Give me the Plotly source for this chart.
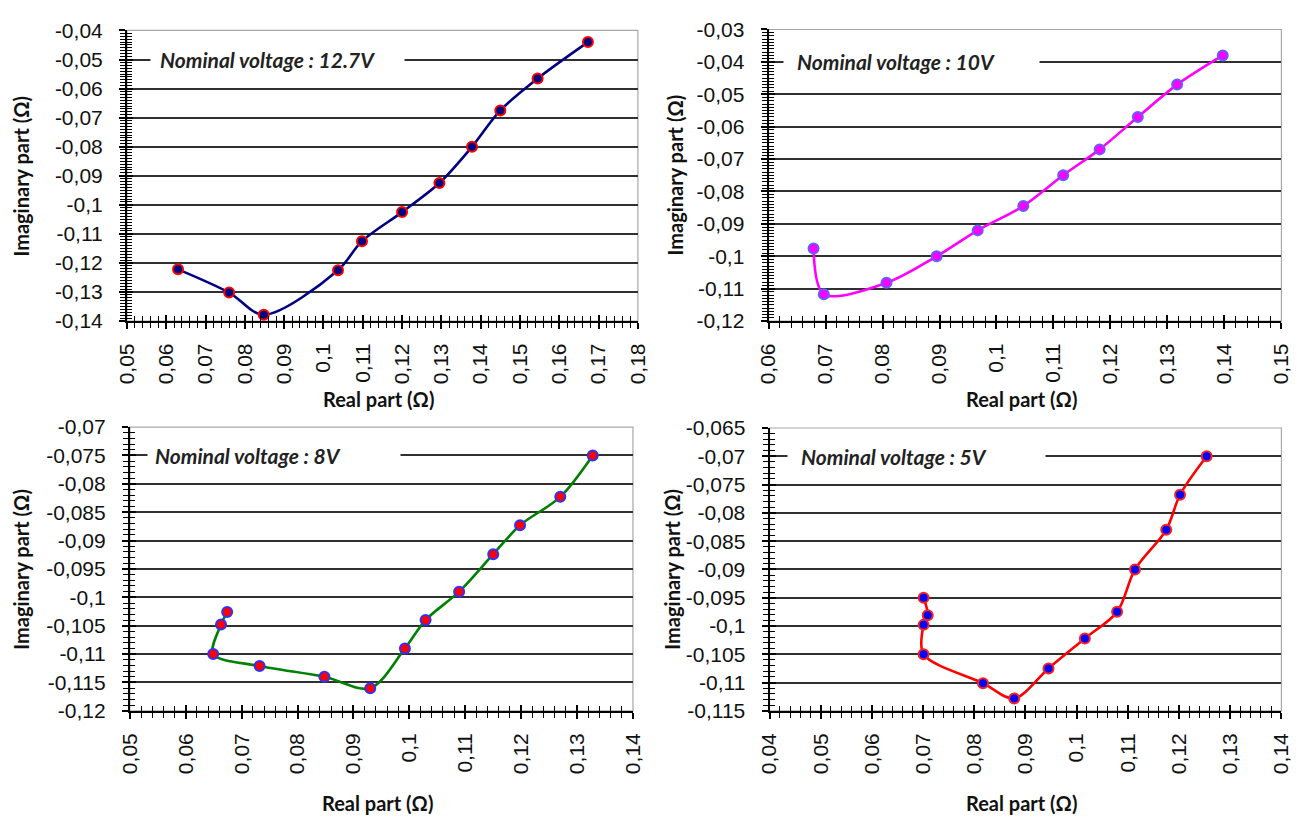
import plotly.graph_objects as go

W, H = 1316, 821

# ---------------- data ----------------
re_127 = [0.063, 0.076, 0.0848, 0.1037, 0.1098, 0.120, 0.1295, 0.1378, 0.145, 0.1545, 0.1673]
im_127 = [-0.1222, -0.1302, -0.1378, -0.1225, -0.1125, -0.1025, -0.0925, -0.080, -0.0675, -0.0565, -0.044]

re_10 = [0.0679, 0.0697, 0.0807, 0.0895, 0.0967, 0.1047, 0.1117, 0.1181, 0.1248, 0.1317, 0.1397]
im_10 = [-0.0976, -0.1117, -0.1082, -0.100, -0.092, -0.0845, -0.075, -0.067, -0.057, -0.047, -0.038]

re_8 = [0.0674, 0.0663, 0.0649, 0.0732, 0.0848, 0.093, 0.0992, 0.1029, 0.1089, 0.115, 0.1198, 0.127, 0.1328]
im_8 = [-0.1026, -0.1048, -0.110, -0.1121, -0.114, -0.116, -0.109, -0.104, -0.099, -0.0924, -0.0873, -0.0823, -0.075]

re_5 = [0.0701, 0.0709, 0.0701, 0.0701, 0.0817, 0.0878, 0.0945, 0.1016, 0.1079, 0.1114, 0.1175, 0.1202, 0.1254]
im_5 = [-0.095, -0.0981, -0.0998, -0.105, -0.1101, -0.1128, -0.1075, -0.1022, -0.0975, -0.090, -0.083, -0.0768, -0.070]

labels = ["Nominal voltage : 12.7V", "Nominal voltage : 10V", "Nominal voltage : 8V", "Nominal voltage : 5V"]

x_ticks_1 = [0.05, 0.06, 0.07, 0.08, 0.09, 0.10, 0.11, 0.12, 0.13, 0.14, 0.15, 0.16, 0.17, 0.18]
x_text_1 = ["0,05", "0,06", "0,07", "0,08", "0,09", "0,1", "0,11", "0,12", "0,13", "0,14", "0,15", "0,16", "0,17", "0,18"]
y_ticks_1 = [-0.04, -0.05, -0.06, -0.07, -0.08, -0.09, -0.10, -0.11, -0.12, -0.13, -0.14]
y_text_1 = ["-0,04", "-0,05", "-0,06", "-0,07", "-0,08", "-0,09", "-0,1", "-0,11", "-0,12", "-0,13", "-0,14"]

x_ticks_2 = [0.06, 0.07, 0.08, 0.09, 0.10, 0.11, 0.12, 0.13, 0.14, 0.15]
x_text_2 = ["0,06", "0,07", "0,08", "0,09", "0,1", "0,11", "0,12", "0,13", "0,14", "0,15"]
y_ticks_2 = [-0.03, -0.04, -0.05, -0.06, -0.07, -0.08, -0.09, -0.10, -0.11, -0.12]
y_text_2 = ["-0,03", "-0,04", "-0,05", "-0,06", "-0,07", "-0,08", "-0,09", "-0,1", "-0,11", "-0,12"]

x_ticks_3 = [0.05, 0.06, 0.07, 0.08, 0.09, 0.10, 0.11, 0.12, 0.13, 0.14]
x_text_3 = ["0,05", "0,06", "0,07", "0,08", "0,09", "0,1", "0,11", "0,12", "0,13", "0,14"]
y_ticks_3 = [-0.07, -0.075, -0.08, -0.085, -0.09, -0.095, -0.10, -0.105, -0.11, -0.115, -0.12]
y_text_3 = ["-0,07", "-0,075", "-0,08", "-0,085", "-0,09", "-0,095", "-0,1", "-0,105", "-0,11", "-0,115", "-0,12"]

x_ticks_4 = [0.04, 0.05, 0.06, 0.07, 0.08, 0.09, 0.10, 0.11, 0.12, 0.13, 0.14]
x_text_4 = ["0,04", "0,05", "0,06", "0,07", "0,08", "0,09", "0,1", "0,11", "0,12", "0,13", "0,14"]
y_ticks_4 = [-0.065, -0.07, -0.075, -0.08, -0.085, -0.09, -0.095, -0.10, -0.105, -0.11, -0.115]
y_text_4 = ["-0,065", "-0,07", "-0,075", "-0,08", "-0,085", "-0,09", "-0,095", "-0,1", "-0,105", "-0,11", "-0,115"]

x_title = "Real part (Ω)"
y_title = "Imaginary part (Ω)"

# ---------------- style / layout ----------------
boxes = [(117, 637, 19, 318), (770, 1292, 18, 318), (120, 632, 427, 719), (771, 1292, 428, 719)]
xranges = [[0.05, 0.18], [0.06, 0.15], [0.05, 0.14], [0.04, 0.14]]
yranges = [[-0.14, -0.04], [-0.12, -0.03], [-0.12, -0.07], [-0.115, -0.065]]
label_y = [-0.05, -0.04, -0.075, -0.07]
label_box = [(140, 393), (785, 1040), (137, 389), (789, 1046)]
label_text_x = [149, 797, 144, 801]
ytitle_x = [9, 675, 9, 672]
xtitle_y = [398, 398, 814, 814]
line_col = ["#000080", "#FF00FF", "#008000", "#FF0000"]
fill_col = ["#000080", "#FF00FF", "#FF0000", "#0000FF"]
edge_col = ["#FF0000", "#6060FF", "#3030FF", "#FF2020"]

series = [(re_127, im_127), (re_10, im_10), (re_8, im_8), (re_5, im_5)]
xt = [(x_ticks_1, x_text_1), (x_ticks_2, x_text_2), (x_ticks_3, x_text_3), (x_ticks_4, x_text_4)]
yt = [(y_ticks_1, y_text_1), (y_ticks_2, y_text_2), (y_ticks_3, y_text_3), (y_ticks_4, y_text_4)]

TICK_FONT = dict(family="Liberation Sans, Arial, sans-serif", size=21, color="#111")
TITLE_FONT = dict(family="Lato, Open Sans, sans-serif", size=20, color="#111", weight="bold")
LABEL_FONT = dict(family="Lato, Open Sans, sans-serif", size=21, color="#222", weight="bold", style="italic")
TK = "black"

fig = go.Figure()
layout = dict(width=W, height=H, margin=dict(l=0, r=0, t=0, b=0),
              paper_bgcolor="white", plot_bgcolor="white", showlegend=False,
              annotations=[], shapes=[])

for i in range(4):
    n = i + 1
    L, R, T, B = boxes[i]
    xd = [L / W, R / W]
    yd = [1 - B / H, 1 - T / H]
    xs = "" if n == 1 else str(n)
    ox = str(n + 4)
    layout["xaxis" + xs] = dict(
        domain=xd, anchor="y" + xs, range=xranges[i], tickmode="array",
        tickvals=xt[i][0], ticktext=xt[i][1], tickangle=-90, tickfont=TICK_FONT,
        ticks="outside", ticklen=6, tickwidth=1.5, tickcolor=TK, ticklabelstandoff=6,
        minor=dict(dtick=0.002, tick0=0, ticks="outside", ticklen=5, tickwidth=1.3,
                   tickcolor=TK, showgrid=False),
        showline=True, linecolor="black", linewidth=2, showgrid=False, zeroline=False)
    layout["yaxis" + xs] = dict(
        domain=yd, anchor="x" + xs, range=yranges[i], tickmode="array",
        tickvals=yt[i][0], ticktext=yt[i][1], tickfont=TICK_FONT,
        ticks="outside", ticklen=6, tickwidth=1.5, tickcolor=TK, ticklabelstandoff=12,
        minor=dict(dtick=0.001, tick0=0, ticks="outside", ticklen=5, tickwidth=1.1,
                   tickcolor=TK, showgrid=False),
        showline=True, linecolor="black", linewidth=2,
        showgrid=True, gridcolor="#303030", gridwidth=2, zeroline=False)
    layout["xaxis" + ox] = dict(
        overlaying="x" + xs, anchor="y" + xs, side="bottom", range=xranges[i], tickmode="array",
        tickvals=xt[i][0], showticklabels=False, ticks="inside", ticklen=6, tickwidth=1.5,
        tickcolor=TK,
        minor=dict(dtick=0.002, tick0=0, ticks="inside", ticklen=5, tickwidth=1.3,
                   tickcolor=TK, showgrid=False),
        showline=False, showgrid=False, zeroline=False)
    layout["yaxis" + ox] = dict(
        overlaying="y" + xs, anchor="x" + xs, side="left", range=yranges[i], tickmode="array",
        tickvals=yt[i][0], showticklabels=False, ticks="inside", ticklen=6, tickwidth=1.5,
        tickcolor=TK,
        minor=dict(dtick=0.001, tick0=0, ticks="inside", ticklen=5, tickwidth=1.1,
                   tickcolor=TK, showgrid=False),
        showline=False, showgrid=False, zeroline=False)

    xv, yv = series[i]
    fig.add_trace(go.Scatter(x=xv, y=yv, xaxis="x" + ox, yaxis="y" + ox, mode="markers",
                             marker=dict(opacity=0), hoverinfo="skip"))

    fig.add_trace(go.Scatter(
        x=xv, y=yv, xaxis="x" + xs, yaxis="y" + xs, mode="lines+markers",
        line=dict(color=line_col[i], width=2.6, shape="spline", smoothing=0.9),
        marker=dict(size=10, color=fill_col[i], line=dict(color=edge_col[i], width=2)),
        cliponaxis=False))

    layout["shapes"].append(dict(type="rect", xref="paper", yref="paper",
                                 x0=xd[0], x1=xd[1], y0=yd[0], y1=yd[1],
                                 line=dict(color="#A8A8A8", width=1.2), layer="below"))

    bx0, bx1 = label_box[i]
    layout["annotations"].append(dict(
        xref="paper", yref="y" + xs, x=bx0 / W, y=label_y[i], xanchor="left", yanchor="middle",
        width=bx1 - bx0, height=20, text=" ", showarrow=False, bgcolor="white", borderpad=0))
    layout["annotations"].append(dict(
        xref="paper", yref="y" + xs, x=label_text_x[i] / W, y=label_y[i], xanchor="left",
        yanchor="middle", text=labels[i], showarrow=False, font=LABEL_FONT))

    layout["annotations"].append(dict(
        xref="paper", yref="paper", x=(L + R) / 2 / W - 4 / W, y=1 - xtitle_y[i] / H,
        xanchor="center", yanchor="middle", text=x_title, showarrow=False, font=TITLE_FONT))
    layout["annotations"].append(dict(
        xref="paper", yref="paper", x=ytitle_x[i] / W, y=1 - (T + B) / 2 / H,
        xanchor="center", yanchor="middle", text=y_title, textangle=-90,
        showarrow=False, font=TITLE_FONT))

fig.update_layout(**layout)
fig.write_html("out.html")
